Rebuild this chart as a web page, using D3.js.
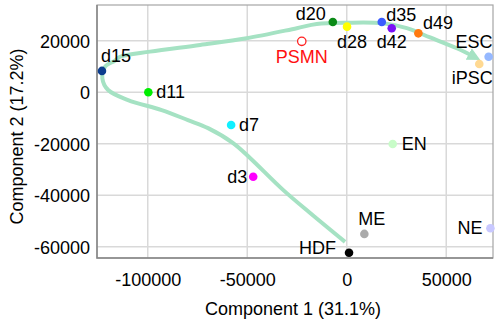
<!DOCTYPE html>
<html>
<head>
<meta charset="utf-8">
<script src="https://cdn.jsdelivr.net/npm/d3@7"></script>
<style>
  html, body { margin: 0; padding: 0; background: #fff; }
  svg { display: block; font-family: "Liberation Sans", Arial, sans-serif; }
</style>
</head>
<body>
<svg id="chart" width="500" height="325"></svg>
<script>
// Sample names, PCA coordinates and colours
const samples = ["d15", "d11", "d7", "d3", "d20", "d28", "d35", "d42", "d49", "ESC", "iPSC", "PSMN", "EN", "ME", "NE", "HDF"];
const pc1 = [-123000, -99700, -58100, -47000, -7000, 150, 17600, 22600, 36000, 71300, 66600, -22600, 23100, 8850, 72200, 1150];
const pc2 = [8300, 0, -12700, -32800, 27300, 25500, 27300, 24850, 22900, 13800, 11000, 19800, -20100, -55000, -52800, -62300];
const pointColors = ["#0c3d8e", "#00ee00", "#11f0ff", "#ff00ff", "#0a8a16", "#ffff00", "#3a5cff", "#7a10f5", "#ff7a10", "#95b8ff", "#ffd992", "#ff2020", "#c8fcc8", "#aaaaaa", "#c8c8ff", "#000000"];
const openMarker = ["PSMN"];

// Differentiation trajectory drawn as a smooth arrow
const trajX = [-850, -18400, -32000, -48600, -57100, -69700, -79800, -93000, -109900, -119900, -122800, -121500, -116400, -113900, -98800, -73700, -50300, -25100, -15100, 0, 18200, 30200, 41900, 55300, 64000];
const trajY = [-58100, -46900, -37900, -25500, -19700, -13900, -10800, -6900, -3000, 900, 5400, 9900, 12300, 13800, 15800, 18400, 21000, 24900, 26500, 27000, 26800, 24900, 21300, 17100, 13800];

// Axis ticks
const xTicks = [-100000, -50000, 0, 50000];
const yTicks = [-60000, -40000, -20000, 0, 20000];
const xTitle = "Component 1 (31.1%)";
const yTitle = "Component 2 (17.2%)";

// Label placement per sample: [dx, dy, anchor]
const labelPos = {
  d15: [-1, -9, "start"], d11: [8, 5.5, "start"], d7: [8, 6, "start"], d3: [-6, 6, "end"],
  d20: [-7, -2, "end"], d28: [5, 21.5, "middle"], d35: [4.5, -1, "start"], d42: [0, 20, "middle"],
  d49: [4.5, -4, "start"], ESC: [4, -8.4, "end"], iPSC: [13.4, 20, "end"], PSMN: [0, 22, "middle"],
  EN: [9, 6, "start"], ME: [7.4, -9, "middle"], NE: [-8, 5.7, "end"], HDF: [-13, 1.6, "end"]
};

const svg = d3.select("#chart");
const m = { left: 97, top: 5, right: 493, bottom: 258 };

const x = d3.scaleLinear().domain([-125500, 73500]).range([m.left, m.right]);
const y = d3.scaleLinear().domain([-64350, 33900]).range([m.bottom, m.top]);

// Grid
const grid = svg.append("g");
grid.selectAll("line.gx").data(xTicks).join("line")
  .attr("x1", d => x(d)).attr("x2", d => x(d)).attr("y1", m.top).attr("y2", m.bottom)
  .attr("stroke", "#d9d9d9").attr("stroke-width", 1.5);
grid.selectAll("line.gy").data(yTicks).join("line")
  .attr("y1", d => y(d)).attr("y2", d => y(d)).attr("x1", m.left).attr("x2", m.right)
  .attr("stroke", "#d9d9d9").attr("stroke-width", 1.5);

// Frame
svg.append("rect").attr("x", m.left).attr("y", m.top)
  .attr("width", m.right - m.left).attr("height", m.bottom - m.top)
  .attr("fill", "none").attr("stroke", "#a6a6a6").attr("stroke-width", 1.2);
svg.append("path")
  .attr("d", `M${m.left},${m.top}V${m.bottom}H${m.right}`)
  .attr("fill", "none").attr("stroke", "#858585").attr("stroke-width", 1.5);

// Axes (labels only; ticks hidden), plain hyphen for negatives
const fmt = d => String(d);
const xAxis = d3.axisBottom(x).tickValues(xTicks).tickSize(0).tickPadding(0).tickFormat(fmt);
const yAxis = d3.axisLeft(y).tickValues(yTicks).tickSize(0).tickPadding(0).tickFormat(fmt);

const gx = svg.append("g").attr("transform", `translate(0,${m.bottom})`).call(xAxis);
gx.select(".domain").remove();
gx.selectAll("text").attr("font-size", 18).attr("fill", "#000")
  .attr("font-family", "Liberation Sans, Arial, sans-serif")
  .attr("dy", null).attr("y", 28);

const gy = svg.append("g").attr("transform", `translate(${m.left},0)`).call(yAxis);
gy.select(".domain").remove();
gy.selectAll("text").attr("font-size", 18).attr("fill", "#000")
  .attr("font-family", "Liberation Sans, Arial, sans-serif")
  .attr("x", -7).attr("dy", "0.35em");

// Axis titles
svg.append("text").attr("x", (m.left + m.right) / 2 - 2).attr("y", 315)
  .attr("text-anchor", "middle").attr("font-size", 18).text(xTitle);
svg.append("text").attr("transform", `translate(23,${(m.top + m.bottom) / 2 + 5}) rotate(-90)`)
  .attr("text-anchor", "middle").attr("font-size", 18).text(yTitle);

// Trajectory arrow
const trajColor = "#a5e2c3";
svg.append("defs").append("marker")
  .attr("id", "arrow").attr("markerUnits", "userSpaceOnUse")
  .attr("viewBox", "0 -7 13 14").attr("refX", 6).attr("refY", 0)
  .attr("markerWidth", 13).attr("markerHeight", 14).attr("orient", "auto")
  .append("path").attr("d", "M0,-6.5L13,0L0,6.5Z").attr("fill", trajColor);

const traj = trajX.map((v, i) => [v, trajY[i]]);
svg.append("path")
  .datum(traj)
  .attr("d", d3.line().x(d => x(d[0])).y(d => y(d[1])).curve(d3.curveCatmullRom.alpha(0.5)))
  .attr("fill", "none").attr("stroke", trajColor).attr("stroke-width", 4)
  .attr("stroke-linecap", "butt")
  .attr("marker-end", "url(#arrow)");

// Points
const data = samples.map((s, i) => ({ name: s, x: pc1[i], y: pc2[i], color: pointColors[i] }));
svg.append("g").selectAll("circle").data(data).join("circle")
  .attr("cx", d => x(d.x)).attr("cy", d => y(d.y)).attr("r", d => openMarker.includes(d.name) ? 4.2 : 4.3)
  .attr("fill", d => openMarker.includes(d.name) ? "#fff" : d.color)
  .attr("stroke", d => openMarker.includes(d.name) ? d.color : "none")
  .attr("stroke-width", 1.3);

// Labels
svg.append("g").selectAll("text").data(data).join("text")
  .attr("x", d => x(d.x) + labelPos[d.name][0])
  .attr("y", d => y(d.y) + labelPos[d.name][1])
  .attr("text-anchor", d => labelPos[d.name][2])
  .attr("font-size", 18)
  .attr("fill", d => d.name === "PSMN" ? "#ff1010" : "#000")
  .text(d => d.name);
</script>
</body>
</html>
